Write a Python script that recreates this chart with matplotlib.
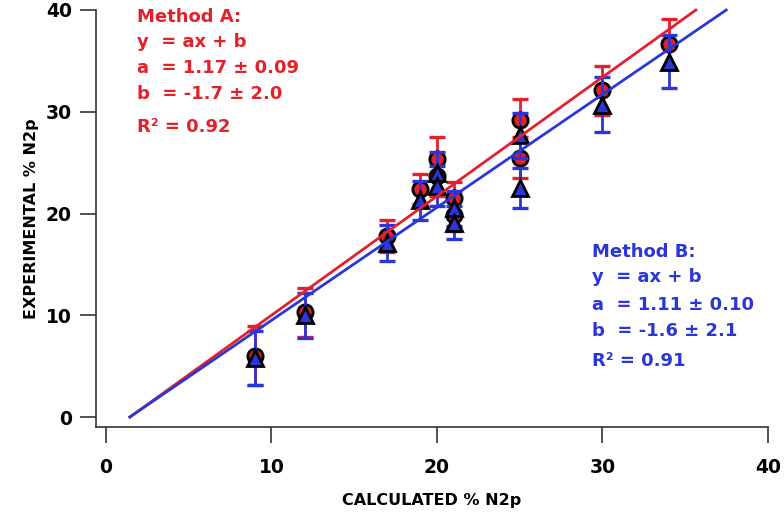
import numpy as np
import matplotlib
matplotlib.use("Agg")
import matplotlib.pyplot as plt

# calculated % N2p (x) and experimental values for both methods
calc_x = [9, 12, 17, 19, 20, 20, 21, 21, 25, 25, 30, 34]

exp_a = [6.0, 10.3, 17.8, 22.4, 25.4, 23.7, 21.5, 19.9, 29.2, 25.5, 32.1, 36.7]
err_a = [2.9, 2.4, 1.6, 1.5, 2.1, 2.0, 1.6, 1.6, 2.1, 2.0, 2.4, 2.4]

exp_b = [5.8, 10.0, 17.1, 21.3, 24.0, 22.7, 20.5, 19.1, 27.7, 22.5, 30.7, 34.9]
err_b = [2.7, 2.2, 1.8, 1.9, 2.0, 2.0, 1.7, 1.6, 2.2, 2.0, 2.7, 2.6]

# fit results
fit_a = (1.17, -1.7)
fit_b = (1.11, -1.6)

text_a = ["Method A:", "y  = ax + b", "a  = 1.17 \u00b1 0.09", "b  = -1.7 \u00b1 2.0", "R\u00b2 = 0.92"]
text_b = ["Method B:", "y  = ax + b", "a  = 1.11 \u00b1 0.10", "b  = -1.6 \u00b1 2.1", "R\u00b2 = 0.91"]

RED = "#e3202b"
BLUE = "#2b36d9"
AXC = "#333333"

plt.rcParams['font.family'] = ['DejaVu Sans']
plt.rcParams['font.weight'] = 'bold'

W, H = 784, 513
fig = plt.figure(figsize=(W / 100, H / 100), dpi=100)
ax = fig.add_axes([96 / W, 1 - 427 / H, (768 - 96) / W, (427 - 10) / H])

# method A: red circles
ax.errorbar(calc_x, exp_a, yerr=err_a, fmt='none', ecolor=RED, elinewidth=2.0,
            capsize=5.5, capthick=2.4, zorder=2)
ax.plot(calc_x, exp_a, 'o', ms=11, mfc=RED, mec='black', mew=2.0, zorder=3)

# method B: blue triangles
ax.errorbar(calc_x, exp_b, yerr=err_b, fmt='none', ecolor=BLUE, elinewidth=2.0,
            capsize=5.5, capthick=2.4, zorder=4)
ax.plot(calc_x, exp_b, '^', ms=12, mfc=BLUE, mec='black', mew=2.0, zorder=5)

# fit lines, drawn from y = 0 to y = 40
for (a, b), c in [(fit_a, RED), (fit_b, BLUE)]:
    xs = np.array([(0 - b) / a, (40 - b) / a])
    ax.plot(xs, a * xs + b, color=c, lw=2.0, zorder=6, clip_on=False)

ax.set_xlim(-0.6, 40)
ax.set_ylim(-0.98, 40)
ax.set_xticks([0, 10, 20, 30, 40])
ax.set_yticks([0, 10, 20, 30, 40])

for s in ['top', 'right']:
    ax.spines[s].set_visible(False)
for s in ['left', 'bottom']:
    ax.spines[s].set_linewidth(1.2)
    ax.spines[s].set_color(AXC)

ax.tick_params(direction='out', length=11.5, width=1.2, color=AXC,
               labelsize=13.5, pad=6)
ax.tick_params(axis='x', pad=11)
for lab in ax.get_xticklabels() + ax.get_yticklabels():
    lab.set_fontweight('bold')

ax.set_xlabel("CALCULATED % N2p", fontsize=11.5, fontweight='bold', labelpad=11)
ax.set_ylabel("EXPERIMENTAL % N2p", fontsize=11.5, fontweight='bold', labelpad=5)

# annotation blocks (positions in figure pixels)
ys_a = [17, 42, 68, 94, 127]
ys_b = [252, 277, 305, 331, 361]
for t, yy in zip(text_a, ys_a):
    fig.text(137 / W, 1 - yy / H, t, color=RED, fontsize=13, fontweight='bold',
             va='center', ha='left')
for t, yy in zip(text_b, ys_b):
    fig.text(592 / W, 1 - yy / H, t, color=BLUE, fontsize=13, fontweight='bold',
             va='center', ha='left')

fig.savefig("out.png", dpi=100)
